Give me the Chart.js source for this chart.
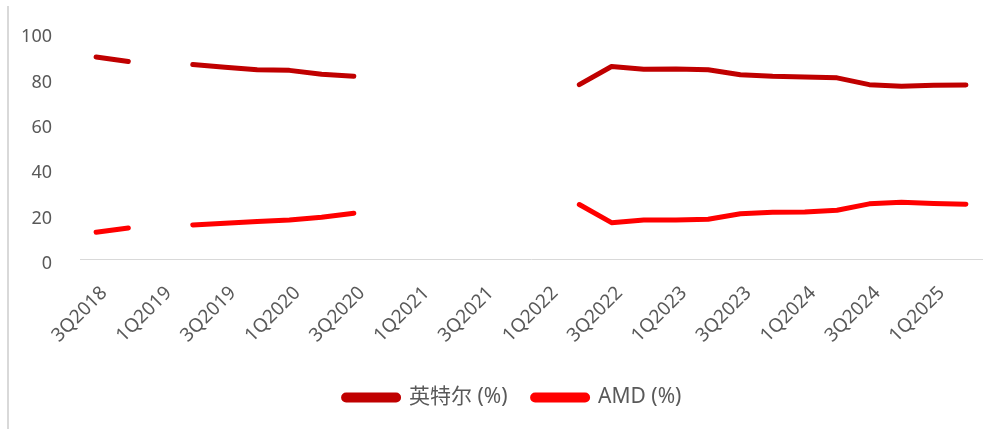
<!DOCTYPE html>
<html>
<head>
<meta charset="utf-8">
<script src="https://cdn.jsdelivr.net/npm/chart.js@4.4.1/dist/chart.umd.min.js"></script>
<style>
  html, body { margin: 0; padding: 0; background: #ffffff; }
  #wrap { width: 999px; height: 429px; position: relative; }
</style>
</head>
<body>
<div id="wrap"><canvas id="c"></canvas></div>
<script>
const categories = ['3Q2018','4Q2018','1Q2019','2Q2019','3Q2019','4Q2019','1Q2020','2Q2020','3Q2020','4Q2020',
  '1Q2021','2Q2021','3Q2021','4Q2021','1Q2022','2Q2022','3Q2022','4Q2022','1Q2023','2Q2023',
  '3Q2023','4Q2023','1Q2024','2Q2024','3Q2024','4Q2024','1Q2025','2Q2025'];
const intelShare = [89.0, 87.0, null, 85.7, 84.5, 83.4, 83.1, 81.4, 80.5, null,
  null, null, null, null, null, 76.8, 84.8, 83.6, 83.7, 83.4,
  81.2, 80.5, 80.2, 79.8, 76.8, 76.1, 76.5, 76.7];
const amdShare = [11.8, 13.7, null, 15.0, 15.8, 16.5, 17.2, 18.4, 20.2, null,
  null, null, null, null, null, 24.0, 16.0, 17.2, 17.2, 17.5,
  19.9, 20.6, 20.7, 21.5, 24.3, 25.0, 24.4, 24.1];
const seriesNames = ['英特尔 (%)', 'AMD (%)'];
const yTicks = [0, 20, 40, 60, 80, 100];

const FONT = '"Noto Sans", "Noto Sans CJK SC", sans-serif';
const GREY = '#595959';

const frame = {
  id: 'frame',
  afterLayout(chart) {
    const lg = chart.legend;
    lg.left += 21.5;
    lg.right += 21.5;
  },
  afterDraw(chart) {
    const ctx = chart.ctx;
    ctx.save();
    ctx.strokeStyle = '#d9d9d9';
    ctx.lineWidth = 2;
    ctx.beginPath();
    ctx.moveTo(8, 6);
    ctx.lineTo(8, 429);
    ctx.stroke();
    ctx.restore();
  }
};

new Chart(document.getElementById('c'), {
  type: 'line',
  data: {
    labels: categories,
    datasets: [
      { label: seriesNames[0], data: intelShare, borderColor: '#C00000', backgroundColor: '#C00000' },
      { label: seriesNames[1], data: amdShare, borderColor: '#FF0000', backgroundColor: '#FF0000' }
    ]
  },
  options: {
    responsive: true,
    maintainAspectRatio: false,
    animation: false,
    spanGaps: false,
    layout: { padding: { top: 32, right: 17, bottom: 11, left: 0 } },
    elements: {
      line: { borderWidth: 5, tension: 0, borderCapStyle: 'round', borderJoinStyle: 'round' },
      point: { radius: 0, hoverRadius: 0 }
    },
    plugins: {
      legend: {
        position: 'bottom',
        labels: {
          font: { family: FONT, size: 21 },
          color: GREY,
          boxWidth: 55,
          boxHeight: 5,
          useBorderRadius: true,
          borderRadius: 2.5,
          padding: 25
        }
      },
      tooltip: { enabled: false }
    },
    scales: {
      x: {
        offset: true,
        grid: { display: false, drawTicks: false },
        border: { display: true, color: '#d9d9d9', width: 1 },
        ticks: {
          autoSkip: false,
          minRotation: 45,
          maxRotation: 45,
          padding: 23,
          labelOffset: 8,
          color: GREY,
          font: { family: FONT, size: 19 },
          callback: function(v, i) { return i % 2 === 0 ? categories[i] : ''; }
        },
        afterFit(s) { s.height = 103; s.paddingLeft = 0; s.paddingRight = 0; }
      },
      y: {
        min: 0,
        max: 100,
        afterBuildTicks(s) { s.ticks = yTicks.map(v => ({ value: v })); },
        grid: { display: false, drawTicks: false },
        border: { display: false },
        ticks: {
          padding: 28,
          labelOffset: 5,
          color: GREY,
          font: { family: FONT, size: 18 }
        },
        afterFit(s) { s.width = 80; s.paddingTop = 0; s.paddingBottom = 0; }
      }
    }
  },
  plugins: [frame]
});
</script>
</body>
</html>
